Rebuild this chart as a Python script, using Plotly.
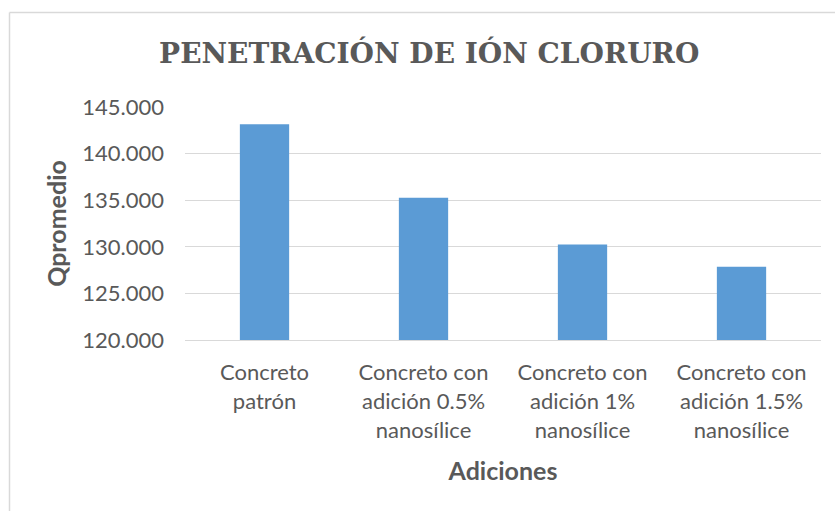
import plotly.graph_objects as go

categories = ["Concreto patrón", "Concreto con adición 0.5% nanosílice",
              "Concreto con adición 1% nanosílice", "Concreto con adición 1.5% nanosílice"]
tick_labels = ["Concreto<br>patrón", "Concreto con<br>adición 0.5%<br>nanosílice",
               "Concreto con<br>adición 1%<br>nanosílice", "Concreto con<br>adición 1.5%<br>nanosílice"]
q_promedio = [143150, 135250, 130250, 127860]
y_ticks = [120000, 125000, 130000, 135000, 140000, 145000]

TXT = "#595959"
GRID = "#d9d9d9"
FONT = "Lato"

fig = go.Figure(go.Bar(x=categories, y=q_promedio, marker=dict(color="#5b9bd5", line=dict(width=0))))

fig.update_layout(
    width=835, height=511,
    margin=dict(l=185, r=14, t=107, b=171),
    paper_bgcolor="white", plot_bgcolor="white",
    separators=",.",
    bargap=0.69,
    showlegend=False,
    font=dict(family=FONT, size=22, color=TXT),
    title=dict(text="PENETRACIÓN DE IÓN CLORURO", x=0.514, xanchor="center",
               y=0.895, yanchor="middle", xref="container", yref="container",
               font=dict(family="DejaVu Serif", size=28, color=TXT, weight="bold")),
    xaxis=dict(
        tickmode="array", tickvals=categories, ticktext=tick_labels,
        tickfont=dict(family=FONT, size=22, color=TXT),
        showline=True, linecolor=GRID, linewidth=1, ticks="", showgrid=False,
        ticklabelstandoff=13,
        title=dict(text="<b>Adiciones</b>", font=dict(family=FONT, size=25, color=TXT), standoff=20),
    ),
    yaxis=dict(
        range=[120000, 145000], tickvals=y_ticks, tickformat=",d",
        tickfont=dict(family=FONT, size=22, color=TXT),
        showgrid=True, gridcolor=GRID, gridwidth=1, zeroline=False, showline=False,
        ticks="", ticklabelstandoff=20,
        title=dict(text="<b>Qpromedio</b>", font=dict(family=FONT, size=25, color=TXT), standoff=8),
    ),
    shapes=[
        dict(type="line", xref="paper", yref="paper", x0=(9.5 - 185) / 636, x1=(835 - 185) / 636,
             y0=(340 - 12.5) / 233, y1=(340 - 12.5) / 233, line=dict(color=GRID, width=1.5)),
        dict(type="line", xref="paper", yref="paper", x0=(9.5 - 185) / 636, x1=(9.5 - 185) / 636,
             y0=(340 - 12.5) / 233, y1=(340 - 511) / 233, line=dict(color=GRID, width=1.5)),
    ],
)

fig.write_html("out.html", config={"displayModeBar": False},
               post_script="document.body.style.margin='0';document.body.style.overflow='hidden';")
